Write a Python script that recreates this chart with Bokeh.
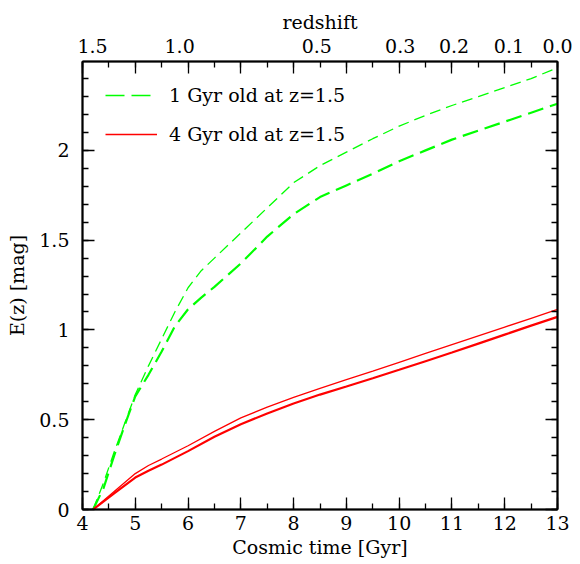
from bokeh.plotting import figure
from bokeh.models import (LinearAxis, SingleIntervalTicker, FixedTicker, NumeralTickFormatter,
                          Range1d, Legend, LegendItem, CustomLabelingPolicy)
from bokeh.embed import file_html
from bokeh.resources import INLINE

FONT = "DejaVu Serif"
FS = "19px"
NAN = float("nan")

# ---------------- data ----------------
t_green_thin = [4.2, 4.4, 4.6, 4.8, 5.0, 5.25, 5.5, 5.75, 6.0, 6.25, 6.5, 7.0, 7.5,
                8.0, 8.5, 9.0, 9.5, 10.0, 10.5, 11.0, 11.5, 12.0, 12.5, 13.0]
e_green_thin = [0.0, 0.15, 0.32, 0.48, 0.64, 0.80, 0.95, 1.10, 1.235, 1.33, 1.40, 1.54, 1.68,
                1.82, 1.915, 1.99, 2.065, 2.135, 2.195, 2.25, 2.30, 2.35, 2.40, 2.46]

t_green_thick = [4.2, 4.4, 4.6, 4.8, 5.0, 5.25, 5.5, 5.75, 6.0, 6.25, 6.5, 7.0, 7.5,
                 8.0, 8.5, 9.0, 9.5, 10.0, 10.5, 11.0, 11.5, 12.0, 12.5, 13.0]
e_green_thick = [0.0, 0.12, 0.30, 0.47, 0.63, 0.75, 0.88, 1.02, 1.115, 1.18, 1.24, 1.37, 1.52,
                 1.645, 1.74, 1.805, 1.87, 1.94, 2.00, 2.06, 2.11, 2.16, 2.21, 2.26]

t_red_thin = [4.2, 4.6, 5.0, 5.25, 5.5, 6.0, 6.5, 7.0, 7.5, 8.0, 8.5, 9.0, 9.5,
              10.0, 10.5, 11.0, 11.5, 12.0, 12.5, 13.0]
e_red_thin = [0.0, 0.10, 0.20, 0.245, 0.281, 0.355, 0.435, 0.51, 0.57, 0.625, 0.675, 0.723, 0.771,
              0.82, 0.869, 0.918, 0.967, 1.016, 1.065, 1.114]

t_red_thick = [4.2, 4.6, 5.0, 5.25, 5.5, 6.0, 6.5, 7.0, 7.5, 8.0, 8.5, 9.0, 9.5,
               10.0, 10.5, 11.0, 11.5, 12.0, 12.5, 13.0]
e_red_thick = [0.0, 0.09, 0.178, 0.216, 0.25, 0.325, 0.405, 0.475, 0.535, 0.59, 0.64, 0.685, 0.731,
               0.778, 0.826, 0.874, 0.924, 0.974, 1.024, 1.073]

redshift_labels = ["1.5", "1.0", "0.5", "0.3", "0.2", "0.1", "0.0"]
redshift_pos_gyr = [4.19, 5.84, 8.44, 10.02, 11.04, 12.08, 13.0]

legend_labels = ["1 Gyr old at z=1.5", "4 Gyr old at z=1.5"]

GREEN = "#00ff00"
RED = "#ff0000"

# ---------------- figure ----------------
p = figure(width=580, height=564, x_range=Range1d(4, 13), y_range=Range1d(0, 2.495),
           output_backend="svg", toolbar_location=None,
           min_border_left=82, min_border_right=23, min_border_top=61, min_border_bottom=55)
p.xgrid.visible = False
p.ygrid.visible = False
p.outline_line_color = "black"
p.outline_line_width = 1.5
p.background_fill_color = "white"
p.border_fill_color = "white"

NO_LABELS = "for (const i of indices) { indices.unset(i) }\nreturn indices"


def style(ax, ticker, labels=True):
    ax.ticker = ticker
    ax.major_tick_in = 12
    ax.major_tick_out = 0
    ax.minor_tick_in = 6
    ax.minor_tick_out = 0
    ax.major_tick_line_color = "black"
    ax.minor_tick_line_color = "black"
    ax.major_tick_line_width = 1.3
    ax.minor_tick_line_width = 1.3
    ax.axis_line_color = "black"
    ax.axis_line_width = 2
    ax.major_label_text_font = FONT
    ax.major_label_text_color = "black"
    ax.axis_label_text_font = FONT
    ax.axis_label_text_font_style = "normal"
    ax.axis_label_text_font_size = FS
    ax.axis_label_text_color = "black"
    if labels:
        ax.major_label_text_font_size = FS
    else:
        ax.major_label_text_font_size = "1px"
        ax.major_label_standoff = 0
        ax.major_label_policy = CustomLabelingPolicy(code=NO_LABELS)


xb = p.xaxis[0]
style(xb, SingleIntervalTicker(interval=1, num_minor_ticks=2))
xb.axis_label = "Cosmic time [Gyr]"
xb.major_label_standoff = 6
xb.axis_label_standoff = 3

yl = p.yaxis[0]
style(yl, SingleIntervalTicker(interval=0.5, num_minor_ticks=5))
yl.formatter = NumeralTickFormatter(format="0.[0]")
yl.axis_label = "E(z) [mag]"
yl.major_label_standoff = 13
yl.axis_label_standoff = 8

# top tick axis (adjacent to frame)
xt = LinearAxis()
style(xt, SingleIntervalTicker(interval=1, num_minor_ticks=2), labels=False)
p.add_layout(xt, "above")

# top redshift label axis (outside the tick axis)
xz = LinearAxis()
xz.ticker = FixedTicker(ticks=redshift_pos_gyr, minor_ticks=[])
xz.major_label_overrides = {pos: lab for pos, lab in zip(redshift_pos_gyr, redshift_labels)}
xz.major_tick_in = 0
xz.major_tick_out = 0
xz.minor_tick_in = 0
xz.minor_tick_out = 0
xz.axis_line_color = None
xz.major_tick_line_color = None
xz.minor_tick_line_color = None
xz.major_label_text_font = FONT
xz.major_label_text_font_size = FS
xz.major_label_text_color = "black"
xz.major_label_standoff = 5
xz.axis_label = "redshift"
xz.axis_label_text_font = FONT
xz.axis_label_text_font_style = "normal"
xz.axis_label_text_font_size = FS
xz.axis_label_text_color = "black"
xz.axis_label_standoff = 3
p.add_layout(xz, "above")

yr = LinearAxis()
style(yr, SingleIntervalTicker(interval=0.5, num_minor_ticks=5), labels=False)
p.add_layout(yr, "right")

# curves
p.line(t_green_thin, e_green_thin, line_color=GREEN, line_width=1.3, line_dash="11 6")
p.line(t_green_thick, e_green_thick, line_color=GREEN, line_width=2.2, line_dash="16 7")
p.line(t_red_thin, e_red_thin, line_color=RED, line_width=1.3)
p.line(t_red_thick, e_red_thick, line_color=RED, line_width=2.2)

# legend-only renderers (no visible data)
lg_green = p.line([NAN], [NAN], line_color=GREEN, line_width=1.5, line_dash="19 7")
lg_red = p.line([NAN], [NAN], line_color=RED, line_width=1.3)

legend = Legend(items=[LegendItem(label=legend_labels[0], renderers=[lg_green]),
                       LegendItem(label=legend_labels[1], renderers=[lg_red])],
                location="top_left", margin=23, padding=0,
                glyph_width=52, glyph_height=20, label_height=20,
                label_standoff=12, spacing=17,
                label_text_font=FONT, label_text_font_size=FS, label_text_color="black",
                border_line_color=None, background_fill_alpha=0)
p.add_layout(legend, "center")

open("out.html", "w").write(file_html(p, INLINE))
